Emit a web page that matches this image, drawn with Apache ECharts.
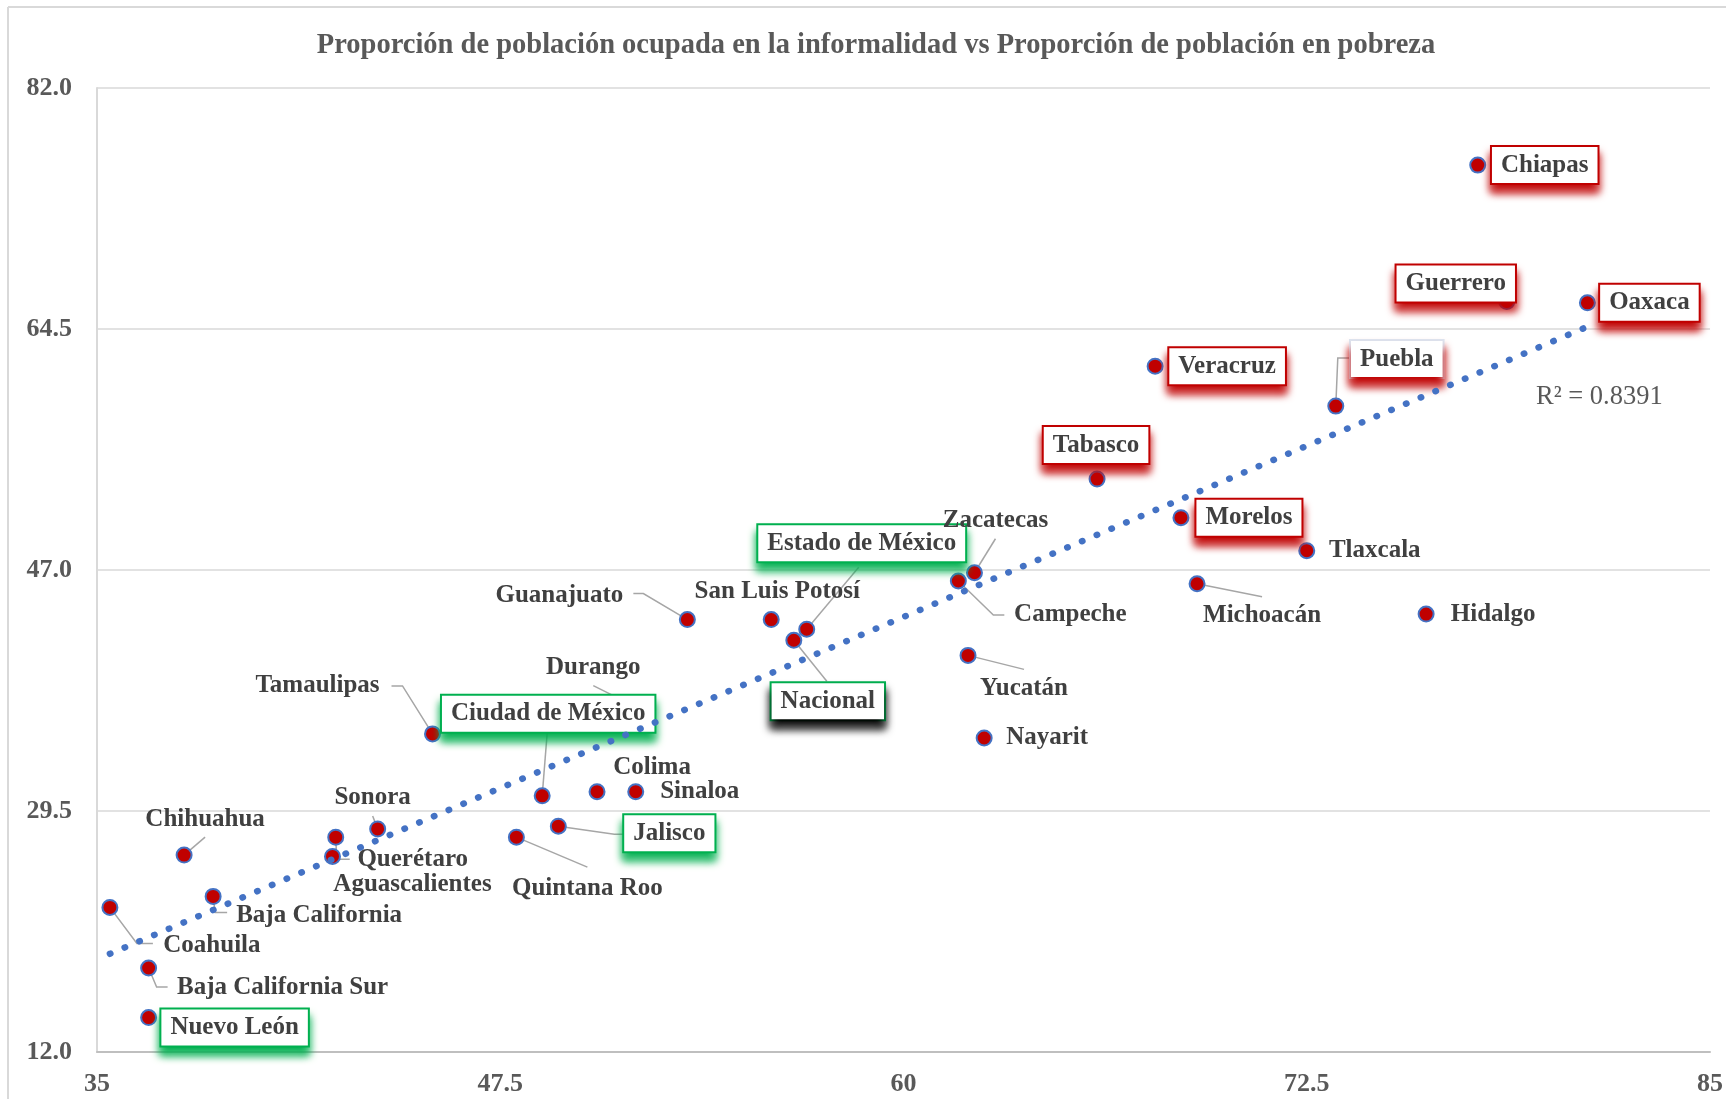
<!DOCTYPE html>
<html>
<head>
<meta charset="utf-8">
<title>Informalidad vs pobreza</title>
<script src="https://cdn.jsdelivr.net/npm/echarts@6/dist/echarts.min.js"></script>
<style>
  html, body { margin: 0; padding: 0; background: #fff; }
  #chart { width: 1726px; height: 1099px; }
</style>
</head>
<body>
<div id="chart"></div>
<script>
// entidades y valores (%): informalidad laboral (x) y pobreza (y)
const estados = ['Aguascalientes', 'Baja California', 'Baja California Sur', 'Campeche', 'Coahuila',
  'Colima', 'Chiapas', 'Chihuahua', 'Ciudad de México', 'Durango', 'Guanajuato', 'Guerrero',
  'Hidalgo', 'Jalisco', 'Estado de México', 'Michoacán', 'Morelos', 'Nayarit', 'Nuevo León',
  'Oaxaca', 'Puebla', 'Querétaro', 'Quintana Roo', 'San Luis Potosí', 'Sinaloa', 'Sonora',
  'Tabasco', 'Tamaulipas', 'Tlaxcala', 'Veracruz', 'Yucatán', 'Zacatecas', 'Nacional'];
const informalidad = [42.3, 38.6, 36.6, 61.7, 35.4,
  50.5, 77.8, 37.7, 48.8, 51.5, 53.3, 78.7,
  76.2, 49.3, 57.0, 69.1, 68.6, 62.5, 36.6,
  81.2, 73.4, 42.4, 48.0, 55.9, 51.7, 43.7,
  66.0, 45.4, 72.5, 67.8, 62.0, 62.2, 56.6];
const pobreza = [26.2, 23.3, 18.1, 46.2, 22.5,
  30.9, 76.4, 26.3, 30.6, 37.3, 43.4, 66.5,
  43.8, 28.4, 42.7, 46.0, 50.8, 34.8, 14.5,
  66.4, 58.9, 27.6, 27.6, 43.4, 30.9, 28.2,
  53.6, 35.1, 48.4, 61.8, 40.8, 46.8, 41.9];

// etiquetas con recuadro
const recuadroRojo = ['Chiapas', 'Guerrero', 'Oaxaca', 'Veracruz', 'Puebla', 'Tabasco', 'Morelos'];
const recuadroVerde = ['Estado de México', 'Ciudad de México', 'Nacional', 'Jalisco', 'Nuevo León'];

const titulo = 'Proporción de población ocupada en la informalidad vs Proporción de población en pobreza';
const textoR2 = 'R² = 0.8391';

// desplazamiento de cada etiqueta respecto a su punto (px)
const posEtiqueta = {
  'Aguascalientes': [80, 28], 'Baja California': [106, 19], 'Baja California Sur': [134, 20],
  'Campeche': [112, 34], 'Coahuila': [102, 38], 'Colima': [55, -24], 'Chiapas': [67, 0],
  'Chihuahua': [21, -36], 'Ciudad de México': [6, -82], 'Durango': [-36, -36],
  'Guanajuato': [-128, -24], 'Guerrero': [-51, -18], 'Hidalgo': [67, 0], 'Jalisco': [111, 7],
  'Estado de México': [55, -86], 'Michoacán': [65, 32], 'Morelos': [68, 0], 'Nayarit': [63, 0],
  'Nuevo León': [86, 10], 'Oaxaca': [62, 0], 'Puebla': [61, -47], 'Querétaro': [77, 22],
  'Quintana Roo': [71, 51], 'San Luis Potosí': [6, -28], 'Sinaloa': [64, 0], 'Sonora': [-5, -31],
  'Tabasco': [-1, -34], 'Tamaulipas': [-115, -48], 'Tlaxcala': [68, 0], 'Veracruz': [72, 0],
  'Yucatán': [56, 33], 'Zacatecas': [21, -52], 'Nacional': [34, 61]
};

// líneas guía (px, relativas al punto)
const guias = {
  'Puebla': [[0, 0], [2, -48], [15, -48]],
  'Michoacán': [[0, 0], [65, 13]],
  'Zacatecas': [[0, 0], [21, -34]],
  'Campeche': [[0, 0], [35, 34], [46, 34]],
  'Yucatán': [[0, 0], [56, 14]],
  'Estado de México': [[0, 0], [52, -62]],
  'Nacional': [[0, 0], [33, 41]],
  'Guanajuato': [[0, 0], [-44, -26], [-54, -26]],
  'Durango': [[0, 0], [-36, -18]],
  'Tamaulipas': [[0, 0], [-30, -48], [-41, -48]],
  'Ciudad de México': [[0, 0], [5, -63]],
  'Jalisco': [[0, 0], [56, 8], [67, 8]],
  'Quintana Roo': [[0, 0], [71, 30]],
  'Sonora': [[0, 0], [-5, -13]],
  'Querétaro': [[0, 0], [1, 22], [14, 22]],
  'Chihuahua': [[0, 0], [21, -18]],
  'Baja California': [[0, 0], [2, 16], [14, 16]],
  'Coahuila': [[0, 0], [27, 36], [43, 36]],
  'Baja California Sur': [[0, 0], [8, 19], [19, 19]]
};

const fuente = '"Liberation Serif", "Times New Roman", serif';
const gris = '#595959';

function estiloEtiqueta(nombre) {
  const base = {
    show: true,
    position: 'inside',
    offset: posEtiqueta[nombre],
    formatter: nombre,
    fontFamily: fuente,
    fontWeight: 'bold',
    fontSize: 25,
    lineHeight: 28,
    color: '#404040',
    textBorderWidth: 0
  };
  if (recuadroRojo.includes(nombre) || recuadroVerde.includes(nombre)) {
    const rojo = recuadroRojo.includes(nombre);
    Object.assign(base, {
      backgroundColor: '#fff',
      borderColor: rojo ? '#C00000' : '#00B050',
      borderWidth: 2,
      padding: [4, 9, 4, 9],
      shadowColor: rojo ? '#C00000' : '#00B050',
      shadowBlur: 8,
      shadowOffsetY: 8
    });
    if (nombre === 'Puebla') base.borderColor = '#dde4ef';
    if (nombre === 'Nacional') base.shadowColor = '#000';
  }
  return base;
}

const puntos = estados.map((n, i) => ({
  name: n,
  value: [informalidad[i], pobreza[i]],
  label: estiloEtiqueta(n)
}));

// tendencia lineal por mínimos cuadrados
const nPts = informalidad.length;
const mx = informalidad.reduce((a, b) => a + b, 0) / nPts;
const my = pobreza.reduce((a, b) => a + b, 0) / nPts;
let sxy = 0, sxx = 0;
for (let i = 0; i < nPts; i++) {
  sxy += (informalidad[i] - mx) * (pobreza[i] - my);
  sxx += (informalidad[i] - mx) ** 2;
}
const pendiente = sxy / sxx;
const ordenada = my - pendiente * mx;
const xMin = Math.min(...informalidad);
const xMax = Math.max(...informalidad);
const tendencia = [[xMin, ordenada + pendiente * xMin], [xMax, ordenada + pendiente * xMax]];

const conGuia = estados.map((n, i) => [informalidad[i], pobreza[i], i]).filter(d => guias[estados[d[2]]]);

const chart = echarts.init(document.getElementById('chart'));
chart.setOption({
  animation: false,
  grid: { left: 97, right: 14, top: 88, bottom: 47 },
  xAxis: {
    type: 'value', min: 35, max: 85, interval: 12.5,
    splitLine: { show: false },
    axisTick: { show: false },
    axisLine: { lineStyle: { color: '#bfbfbf', width: 2 } },
    axisLabel: { margin: 19, fontFamily: fuente, fontWeight: 'bold', fontSize: 26, color: gris }
  },
  yAxis: {
    type: 'value', min: 12, max: 82, interval: 17.5,
    axisTick: { show: false },
    axisLine: { show: true, lineStyle: { color: '#d9d9d9', width: 2 } },
    splitLine: { lineStyle: { color: '#d9d9d9', width: 1.5 } },
    axisLabel: {
      margin: 25, fontFamily: fuente, fontWeight: 'bold', fontSize: 26, color: gris,
      formatter: v => v.toFixed(1)
    }
  },
  graphic: [
    { type: 'line', shape: { x1: 8, y1: 7, x2: 1726, y2: 7 }, style: { stroke: '#d9d9d9', lineWidth: 2 } },
    { type: 'line', shape: { x1: 8, y1: 7, x2: 8, y2: 1099 }, style: { stroke: '#d9d9d9', lineWidth: 2 } },
    {
      type: 'text', x: 877, y: 4,
      style: { text: 'Gráfica 1', align: 'center', verticalAlign: 'bottom', font: 'bold 22px ' + fuente, fill: '#000' }
    },
    {
      type: 'text', x: 876, y: 46,
      style: { text: titulo, align: 'center', verticalAlign: 'middle', font: 'bold 28.5px ' + fuente, fill: gris }
    },
    {
      type: 'text', x: 1536, y: 397, z: 10,
      style: { text: textoR2, align: 'left', verticalAlign: 'middle', font: '26.5px ' + fuente, fill: gris }
    }
  ],
  series: [
    {
      type: 'custom',
      z: 1,
      silent: true,
      data: conGuia,
      renderItem: function (params, api) {
        const p = api.coord([api.value(0), api.value(1)]);
        const g = guias[estados[api.value(2)]];
        return {
          type: 'polyline',
          shape: { points: g.map(d => [p[0] + d[0], p[1] + d[1]]) },
          style: { stroke: '#a6a6a6', lineWidth: 1.5, fill: null }
        };
      }
    },
    {
      type: 'scatter',
      z: 2,
      symbolSize: 15,
      itemStyle: { color: '#C00000', borderColor: '#4472C4', borderWidth: 2, opacity: 1 },
      data: puntos
    },
    {
      type: 'line',
      z: 3,
      silent: true,
      showSymbol: false,
      data: tendencia,
      lineStyle: { color: '#4472C4', width: 6.5, type: [0.5, 15.5], cap: 'round' }
    }
  ]
});
</script>
</body>
</html>
